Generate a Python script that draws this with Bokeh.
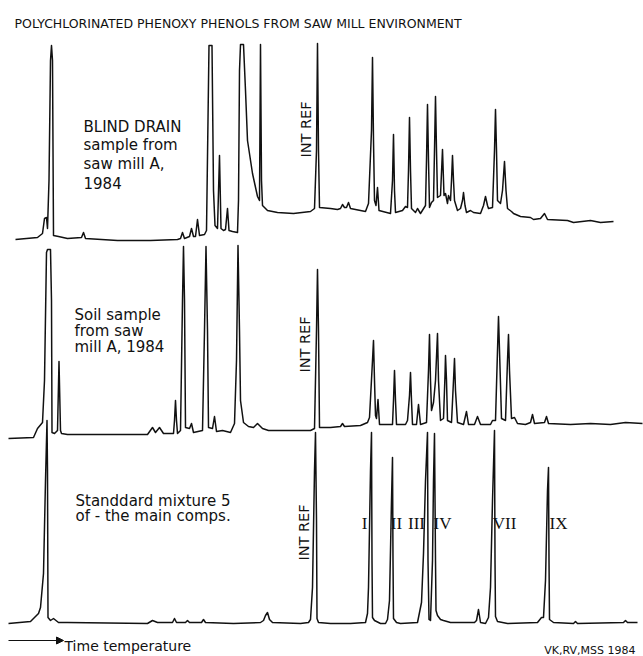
from math import pi
from bokeh.plotting import figure
from bokeh.models import Range1d, Label, Arrow, NormalHead
from bokeh.embed import file_html
from bokeh.resources import INLINE

# ---- Data (retention position, detector row; rows grow downwards) ----
blind_drain_x = [15,37,42,44,46,47,48.5,50,51,52,53,58,67,81,83,85,117,150,177,180,182,184,189,191,193,195,197,199,204,206,
    208.5,211.5,213,214.5,217,219,220.5,223,225,227,228.5,232,237,238,239,240,243,245,247,252,257,259,260,261,262,267,277,293,310,314,
    316,317,318,319,330,337,340,342,344,346,348,350,365,368,371,372,373,374,375.5,377,378.5,390,392,393,394,395,402,405,407,408,
    409,410,411,415,417,420,425,426,427,428,429,431,433,434,435,436,437,440,442,443.5,445,447,448,450,451,452,453,454,457,460,
    462,463,464.5,466,470,473,480,483,485,487,488,492,494,495,496,497,500,502,504,505.5,507,511,513,520,530,533,540,544,547,567,
    573,590,600,613]
blind_drain_y = [239,237,233,218,217,228,180,60,45,60,235,236,238,237,232,238,240,240,239,238,232,238,236,228,236,236,219,235,234,230,
    45,45,190,225,228,155,228,230,229,208,230,231,232,200,70,44,44,90,140,173,196,200,44,180,205,210,212,213,211,208,
    150,43,150,207,208,209,208,204,207,207,202,208,211,203,130,57,140,200,205,187,210,213,180,134,190,212,210,206,207,170,
    117,170,208,212,208,213,205,160,104,160,207,202,200,150,96,150,197,195,149,195,193,203,195,200,180,155,180,200,210,208,
    200,192,205,212,210,212,213,205,196,205,208,207,150,109,150,200,203,190,161,190,208,211,213,216,217,219,218,213,219,220,
    222,220,222,221]

soil_x = [8,33,37,42,44,46,47,50,51,51.5,54,57,58.5,60,61,67,147,152,155,159,163,173,174,175,176,177,180,182,183,184,
    185,189,191,193,202,204,205.5,207,208,212,214,216,222,230,234,236,237.5,239,240,243,248,253,257,262,268,290,310,314,316,317,
    318,319,330,340,342,344,360,367,369,372,373,374,375,376,377.5,379,392,393,394,395,396,405,407,409,410,411,412,416,418,420,
    426,428,429,430,431,433,435,437,438,440,443,444.5,445,446,447,451,453,454,455,457,463,466,468,474,477,480,490,492,495,497,
    498,499,501,505,507,508,509,511,514,517,525,530,532,534,544,546,548,570,590,610,625,642]
soil_y = [438,437,428,422,380,252,249,249,300,432,433,430,361,430,433,434,434,427,432,427,433,433,420,400,420,433,430,300,246,300,
    427,428,423,432,430,330,246,330,427,428,416,431,430,432,423,360,245,330,400,422,426,427,423,428,430,430,430,428,330,269,
    330,427,427,426,423,426,425,422,417,360,340,380,415,418,399,424,424,400,370,400,424,424,420,395,372,400,424,424,404,424,
    422,370,334,380,410,402,380,333,380,420,418,375,355,380,420,422,380,358,390,422,424,411,424,424,416,424,424,420,420,350,
    316,350,418,420,360,334,370,418,417,423,424,422,414,423,422,416,423,424,423,424,422,423]

standard_x = [8,30,33,38,40,43,45,46.5,47,47.5,50,53,58,67,147,152,157,172,174,176,185,187,189,201,203,205,233,260,263,265,
    267,269,272,300,308,310,312,314,315,316,316.5,318,330,350,365,367,368,370,371,371.5,372,374,380,385,387,389,391,392,392.5,393,
    396,400,417,418,421,423,425,427,427.5,428.5,430,432,433,434,435,435.5,437,440,443,450,474,476,478,480,485,488,490,492,494,494.5,
    495,497,507,537,541,543,545,547,548,548.5,549,553,573,575,577,623,625,627,637]
standard_y = [623,621,618,613,607,573,480,420,470,617,620,618,622,622,623,620,622,622,618,622,622,620,622,622,619,622,623,622,620,615,
    612,619,622,623,622,619,587,470,432,520,618,622,623,623,622,613,587,470,432,560,617,620,623,623,619,600,500,457,560,618,
    622,623,622,617,602,553,480,432,560,619,620,560,480,433,560,610,615,619,620,622,622,620,609,622,623,617,587,500,430,560,
    616,621,623,622,617,617,580,490,467,560,619,622,623,621,623,622,620,622,622]

title_text = "POLYCHLORINATED PHENOXY PHENOLS FROM SAW MILL ENVIRONMENT"
blind_label = ["BLIND DRAIN", "sample from", "saw mill A,", "1984"]
soil_label = ["Soil sample", "from saw", "mill A, 1984"]
standard_label = ["Standdard mixture 5", "of - the main comps."]
compound_names = ["I", "II", "III", "IV", "VII", "IX"]
compound_pos = [364, 396, 416, 442, 504, 558]
int_ref_pos = [305, 304, 303.5]
int_ref_row = [129, 344, 532]

FONT = "DejaVu Sans"
INK = "#111111"

p = figure(width=643, height=656, x_range=Range1d(0, 643), y_range=Range1d(656, 0),
           output_backend="svg", toolbar_location=None,
           x_axis_location=None, y_axis_location=None, min_border=0)
p.grid.visible = False
p.outline_line_color = None
p.background_fill_color = "white"
p.border_fill_color = "white"

for xs, ys in [(blind_drain_x, blind_drain_y), (soil_x, soil_y), (standard_x, standard_y)]:
    p.line(xs, ys, line_color=INK, line_width=1.5, line_join="round")

def lab(x, y, text, size, font=FONT, **kw):
    p.add_layout(Label(x=x, y=y, text=text, text_font=font, text_font_size=f"{size}px",
                       text_color=INK, **kw))

lab(14, 23, title_text, 12.5, text_baseline="alphabetic")

for i, t in enumerate(blind_label):
    lab(83, 126 + i * 18.7, t, 15, text_baseline="alphabetic")
for i, t in enumerate(soil_label):
    lab(74, 314 + i * 16, t, 15, text_baseline="alphabetic")
for i, t in enumerate(standard_label):
    lab(75, 500 + i * 15.5, t, 15, text_baseline="alphabetic")

for x, y in zip(int_ref_pos, int_ref_row):
    lab(x, y, "INT REF", 14.5, angle=pi / 2, text_align="center", text_baseline="middle")

for x, t in zip(compound_pos, compound_names):
    lab(x, 523, t, 17, font="Liberation Serif", text_align="center", text_baseline="alphabetic")

p.add_layout(Arrow(end=NormalHead(size=7, fill_color=INK, line_color=INK), x_start=8, y_start=640,
                   x_end=63, y_end=640, line_color=INK, line_width=1.2))
lab(64, 645, "Time temperature", 14, text_baseline="alphabetic")
lab(635, 650, "VK,RV,MSS 1984", 11, text_align="right", text_baseline="alphabetic")

open("out.html", "w").write(file_html(p, INLINE))
